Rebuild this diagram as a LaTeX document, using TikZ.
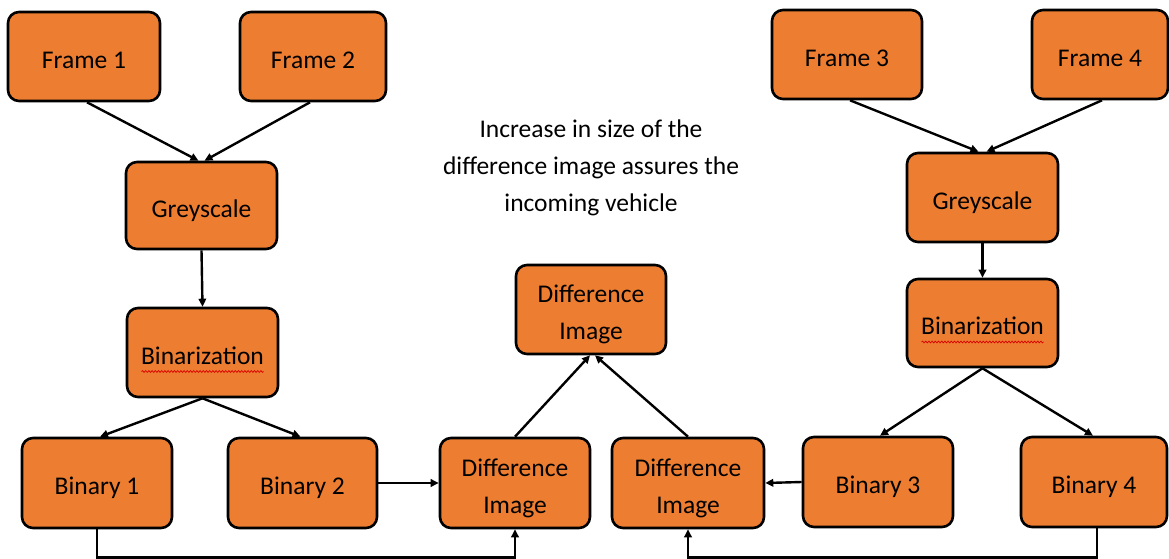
\documentclass[tikz,border=0pt]{standalone}
\usepackage{fontspec}
\setmainfont{Carlito}
\usetikzlibrary{arrows.meta,calc,decorations.pathmorphing}
\definecolor{boxorange}{HTML}{ED7D31}
\newcommand{\bxt}[1]{\raisebox{0pt}[\dimexpr\height+9pt\relax][\depth]{\begin{tabular}{@{}c@{}}#1\end{tabular}}}
\tikzset{
  box/.style={draw=black, fill=boxorange, line width=2.6pt, rounded corners=11pt,
    inner sep=0pt, font=\fontsize{25.5}{37}\selectfont, text=black},
  conn/.style={line width=2.4pt, -{Triangle[length=8pt,width=7.5pt]}},
  squig/.style={red!85!black, line width=0.7pt, decorate,
    decoration={snake, amplitude=0.9pt, segment length=3.2pt}}
}
\begin{document}
\begin{tikzpicture}[x=1pt,y=-1pt]
\useasboundingbox (0,0) rectangle (1169,559);
% nodes
\node[box, minimum width=152, minimum height=89] (f1) at (84,56.5) {\bxt{Frame 1}};
\node[box, minimum width=146, minimum height=89] (f2) at (313,56.5) {\bxt{Frame 2}};
\node[box, minimum width=151, minimum height=87] (gL) at (201.5,205.5) {\bxt{Greyscale}};
\node[box, minimum width=151, minimum height=89] (bzL) at (202.5,352.5) {\bxt{Binarization}};
\node[box, minimum width=150, minimum height=90] (b1) at (97,483) {\bxt{Binary 1}};
\node[box, minimum width=149, minimum height=90] (b2) at (302.5,483) {\bxt{Binary 2}};
\node[box, minimum width=150, minimum height=90] (dL) at (515,483) {\bxt{Difference\\Image}};
\node[box, minimum width=150, minimum height=89] (dT) at (591,309.5) {\bxt{Difference\\Image}};
\node[box, minimum width=152, minimum height=90] (dR) at (688,483) {\bxt{Difference\\Image}};
\node[box, minimum width=150, minimum height=90] (b3) at (878,482) {\bxt{Binary 3}};
\node[box, minimum width=146, minimum height=90] (b4) at (1094,482) {\bxt{Binary 4}};
\node[box, minimum width=150, minimum height=89] (f3) at (847,54.5) {\bxt{Frame 3}};
\node[box, minimum width=136, minimum height=89] (f4) at (1100,54.5) {\bxt{Frame 4}};
\node[box, minimum width=151, minimum height=89] (gR) at (982.5,197.5) {\bxt{Greyscale}};
\node[box, minimum width=151, minimum height=88] (bzR) at (982.5,323) {\bxt{Binarization}};
\node[align=center, font=\fontsize{25.5}{37}\selectfont, text=black, inner sep=0pt] (note) at (591,168)
  {Increase in size of the\\difference image assures the\\incoming vehicle};
% spell-check squiggles
\draw[squig] ($(bzL.center)+(-61,19)$) -- ($(bzL.center)+(61,19)$);
\draw[squig] ($(bzR.center)+(-61,19)$) -- ($(bzR.center)+(61,19)$);
% connectors left
\draw[conn] ([xshift=3]f1.south) -- ([xshift=-3]gL.north);
\draw[conn] ([xshift=-3]f2.south) -- ([xshift=3]gL.north);
\draw[conn] (gL.south) -- (bzL.north);
\draw[conn] (bzL.south) -- ([xshift=3]b1.north);
\draw[conn] (bzL.south) -- ([xshift=-2]b2.north);
\draw[conn] (b2.east) -- (dL.west);
\draw[conn] (b1.south) -- ++(0,28) -| (dL.south);
% connectors right
\draw[conn] ([xshift=3]f3.south) -- ([xshift=-4]gR.north);
\draw[conn] ([xshift=2]f4.south) -- ([xshift=4]gR.north);
\draw[conn] (gR.south) -- (bzR.north);
\draw[conn] (bzR.south) -- ([xshift=2]b3.north);
\draw[conn] (bzR.south) -- ([xshift=-1]b4.north);
\draw[conn] (b3.west) -- (dR.east);
\draw[conn] ([xshift=3]b4.south) -- ++(0,29) -| (dR.south);
% to top difference image
\draw[conn] (dL.north) -- ([xshift=-1]dT.south);
\draw[conn] (dR.north) -- ([xshift=4]dT.south);
\end{tikzpicture}
\end{document}
